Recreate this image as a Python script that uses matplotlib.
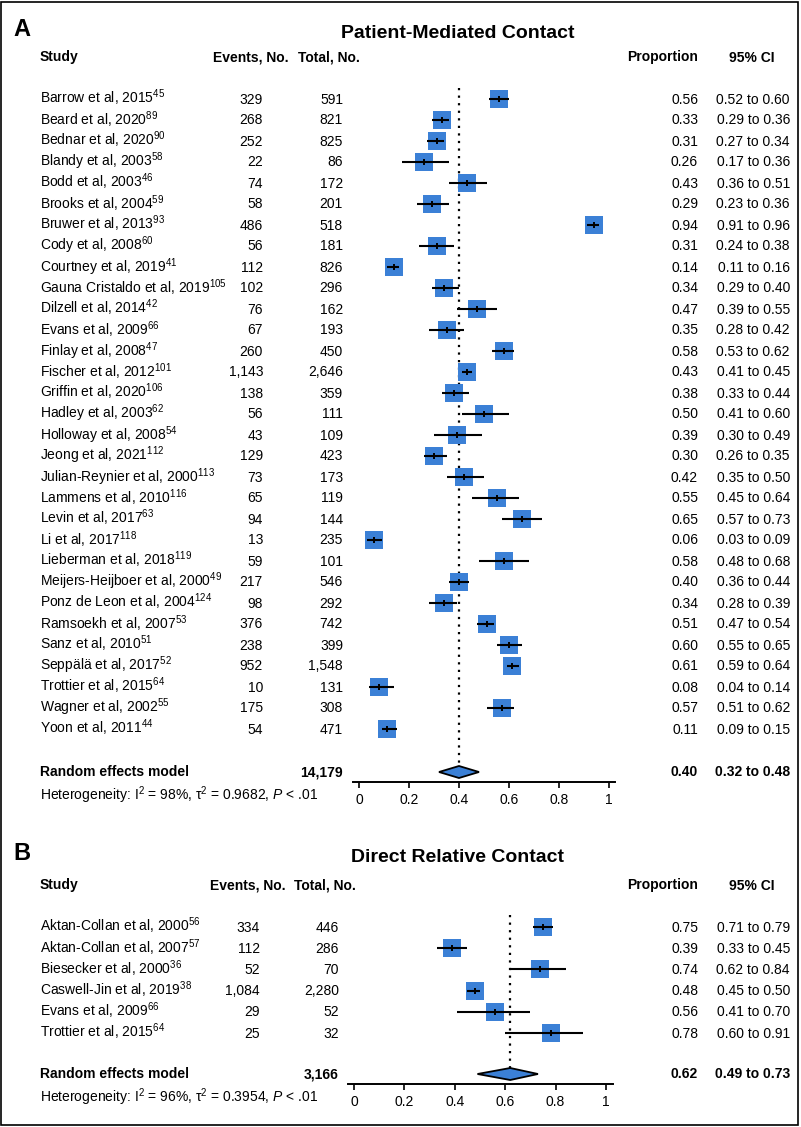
"""Forest plots: proportion of relatives contacted, two strategies."""

import matplotlib

matplotlib.use("Agg")

import matplotlib.pyplot as plt
from matplotlib.patches import Rectangle
from matplotlib.transforms import blended_transform_factory

# ---- panel A: patient-mediated contact ----
studies_a = [
    "Barrow et al, 2015", "Beard et al, 2020", "Bednar et al, 2020", "Blandy et al, 2003",
    "Bodd et al, 2003", "Brooks et al, 2004", "Bruwer et al, 2013", "Cody et al, 2008",
    "Courtney et al, 2019", "Gauna Cristaldo et al, 2019", "Dilzell et al, 2014",
    "Evans et al, 2009", "Finlay et al, 2008", "Fischer et al, 2012", "Griffin et al, 2020",
    "Hadley et al, 2003", "Holloway et al, 2008", "Jeong et al, 2021",
    "Julian-Reynier et al, 2000", "Lammens et al, 2010", "Levin et al, 2017", "Li et al, 2017",
    "Lieberman et al, 2018", "Meijers-Heijboer et al, 2000", "Ponz de Leon et al, 2004",
    "Ramsoekh et al, 2007", "Sanz et al, 2010", "Seppälä et al, 2017", "Trottier et al, 2015",
    "Wagner et al, 2002", "Yoon et al, 2011",
]
refs_a = [45, 89, 90, 58, 46, 59, 93, 60, 41, 105, 42, 66, 47, 101, 106, 62, 54, 112, 113,
          116, 63, 118, 119, 49, 124, 53, 51, 52, 64, 55, 44]
events_a = [329, 268, 252, 22, 74, 58, 486, 56, 112, 102, 76, 67, 260, 1143, 138, 56, 43, 129,
            73, 65, 94, 13, 59, 217, 98, 376, 238, 952, 10, 175, 54]
totals_a = [591, 821, 825, 86, 172, 201, 518, 181, 826, 296, 162, 193, 450, 2646, 359, 111, 109,
            423, 173, 119, 144, 235, 101, 546, 292, 742, 399, 1548, 131, 308, 471]
prop_a = [0.56, 0.33, 0.31, 0.26, 0.43, 0.29, 0.94, 0.31, 0.14, 0.34, 0.47, 0.35, 0.58, 0.43,
          0.38, 0.50, 0.39, 0.30, 0.42, 0.55, 0.65, 0.06, 0.58, 0.40, 0.34, 0.51, 0.60, 0.61,
          0.08, 0.57, 0.11]
lo_a = [0.52, 0.29, 0.27, 0.17, 0.36, 0.23, 0.91, 0.24, 0.11, 0.29, 0.39, 0.28, 0.53, 0.41,
        0.33, 0.41, 0.30, 0.26, 0.35, 0.45, 0.57, 0.03, 0.48, 0.36, 0.28, 0.47, 0.55, 0.59,
        0.04, 0.51, 0.09]
hi_a = [0.60, 0.36, 0.34, 0.36, 0.51, 0.36, 0.96, 0.38, 0.16, 0.40, 0.55, 0.42, 0.62, 0.45,
        0.44, 0.60, 0.49, 0.35, 0.50, 0.64, 0.73, 0.09, 0.68, 0.44, 0.39, 0.54, 0.65, 0.64,
        0.14, 0.62, 0.15]
pooled_a = dict(total=14179, est=0.40, lo=0.32, hi=0.48, i2=98, tau2=0.9682)

# ---- panel B: direct relative contact ----
studies_b = ["Aktan-Collan et al, 2000", "Aktan-Collan et al, 2007", "Biesecker et al, 2000",
             "Caswell-Jin et al, 2019", "Evans et al, 2009", "Trottier et al, 2015"]
refs_b = [56, 57, 36, 38, 66, 64]
events_b = [334, 112, 52, 1084, 29, 25]
totals_b = [446, 286, 70, 2280, 52, 32]
prop_b = [0.75, 0.39, 0.74, 0.48, 0.56, 0.78]
lo_b = [0.71, 0.33, 0.62, 0.45, 0.41, 0.60]
hi_b = [0.79, 0.45, 0.84, 0.50, 0.70, 0.91]
pooled_b = dict(total=3166, est=0.62, lo=0.49, hi=0.73, i2=96, tau2=0.3954)

xticks = [0, 0.2, 0.4, 0.6, 0.8, 1]
xtick_labels = ["0", "0.2", "0.4", "0.6", "0.8", "1"]

W, H = 801, 1127
BLUE = "#3b80d6"
FS = 10

plt.rcParams["font.family"] = ["Liberation Sans", "DejaVu Sans"]
plt.rcParams["mathtext.fontset"] = "custom"
plt.rcParams["mathtext.rm"] = "Liberation Sans"
plt.rcParams["mathtext.it"] = "Liberation Sans:italic"
plt.rcParams["mathtext.bf"] = "Liberation Sans:bold"

fig = plt.figure(figsize=(W / 100, H / 100), dpi=100)


def fx(px):
    return px / W


def fy(py):
    return 1 - py / H


def panel(letter, title, studies, refs, events, totals, prop, lo, hi, pooled, lay):
    # axes: x in data units (proportion), y in pixel rows of the page
    left, right, zero, one = lay["left"], lay["right"], lay["zero"], lay["one"]
    top, axis_y = lay["top"], lay["axis"]
    scale = one - zero
    ax = fig.add_axes([fx(left), fy(axis_y), (right - left) / W, (axis_y - top) / H])
    ax.set_xlim((left - zero) / scale, (right - zero) / scale)
    ax.set_ylim(axis_y, top)
    for s in ("left", "top", "right"):
        ax.spines[s].set_visible(False)
    ax.spines["bottom"].set_linewidth(1.4)
    ax.set_yticks([])
    ax.set_xticks(xticks)
    ax.set_xticklabels(xtick_labels)
    ax.tick_params(axis="x", direction="out", length=4, width=1.2, pad=4, labelsize=FS)
    ax.patch.set_visible(False)

    n = len(studies)
    ys = [lay["row0"] + i * lay["step"] for i in range(n)]
    re_y = lay["re"]

    ax.vlines(pooled["est"], lay["dot_top"], re_y - 6, colors="black",
              linestyles=(0, (1, 2.4)), lw=1.6, zorder=1)
    ax.scatter(prop, ys, marker="s", s=155, color=BLUE, linewidths=0, zorder=2)
    ax.hlines(ys, lo, hi, colors="black", lw=1.5, zorder=3)
    ax.scatter(prop, ys, marker="|", s=22, color="black", linewidths=1.4, zorder=4)
    e, l, h = pooled["est"], pooled["lo"], pooled["hi"]
    ax.fill([l, e, h, e, l], [re_y, re_y - 6, re_y, re_y + 6, re_y], facecolor=BLUE,
            edgecolor="black", lw=1.3, zorder=3)

    tr = blended_transform_factory(fig.transFigure, ax.transData)
    b = 4.5  # baseline offset below row centre, px
    c = lay["cols"]
    hy = lay["header"]
    fig.text(fx(13), fy(lay["letter"]), letter, fontsize=17, fontweight="bold", va="center")
    fig.text(fx(458), fy(lay["title"]), title, fontsize=14, fontweight="bold",
             ha="center", va="center")
    for txt, x, ha in [("Study", 40, "left"), ("Events, No.", c["ev_h"], "left"),
                       ("Total, No.", c["tot_h"], "left"), ("Proportion", 698, "right"),
                       ("95% CI", 752, "center")]:
        ax.text(fx(x), hy + b, txt, transform=tr, ha=ha, va="baseline", fontsize=FS,
                fontweight="bold")

    for i in range(n):
        y = ys[i] + b
        ax.text(fx(40), y, f"{studies[i]}$^{{{refs[i]}}}$", transform=tr, ha="left",
                va="baseline", fontsize=FS)
        ax.text(fx(c["ev"]), y, f"{events[i]:,}", transform=tr, ha="right", va="baseline",
                fontsize=FS)
        ax.text(fx(c["tot"]), y, f"{totals[i]:,}", transform=tr, ha="right", va="baseline",
                fontsize=FS)
        ax.text(fx(698), y, f"{prop[i]:.2f}", transform=tr, ha="right", va="baseline",
                fontsize=FS)
        ax.text(fx(790), y, f"{lo[i]:.2f} to {hi[i]:.2f}", transform=tr, ha="right",
                va="baseline", fontsize=FS)

    y = re_y + b
    bold = dict(transform=tr, va="baseline", fontsize=FS, fontweight="bold")
    ax.text(fx(40), y, "Random effects model", ha="left", **bold)
    ax.text(fx(c["tot"]), y, f"{pooled['total']:,}", ha="right", **bold)
    ax.text(fx(698), y, f"{e:.2f}", ha="right", **bold)
    ax.text(fx(790), y, f"{l:.2f} to {h:.2f}", ha="right", **bold)
    het = (f"Heterogeneity: I$^{{2}}$ = {pooled['i2']}%, "
           f"τ$^{{2}}$ = {pooled['tau2']:.4f}, $P$ < .01")
    ax.text(fx(40), lay["het"] + b, het, transform=tr, ha="left", va="baseline", fontsize=FS)
    return ax


lay_a = dict(left=353, right=615, zero=359, one=609, top=80, axis=782, row0=99, step=21.0,
             re=772, dot_top=88, header=57, title=33, letter=29, het=795,
             cols=dict(ev=263, tot=343, ev_h=213, tot_h=298))
lay_b = dict(left=348, right=613, zero=354, one=606, top=905, axis=1084, row0=927, step=21.2,
             re=1074, dot_top=915, header=885, title=858, letter=853, het=1098,
             cols=dict(ev=260, tot=339, ev_h=210, tot_h=294))

panel("A", "Patient-Mediated Contact", studies_a, refs_a, events_a, totals_a, prop_a, lo_a,
      hi_a, pooled_a, lay_a)
panel("B", "Direct Relative Contact", studies_b, refs_b, events_b, totals_b, prop_b, lo_b,
      hi_b, pooled_b, lay_b)

fig.patches.append(Rectangle((0.0015, 0.0015), 0.995, 0.997, transform=fig.transFigure,
                             fill=False, edgecolor="black", lw=1.2))

fig.savefig("out.png", dpi=100)
